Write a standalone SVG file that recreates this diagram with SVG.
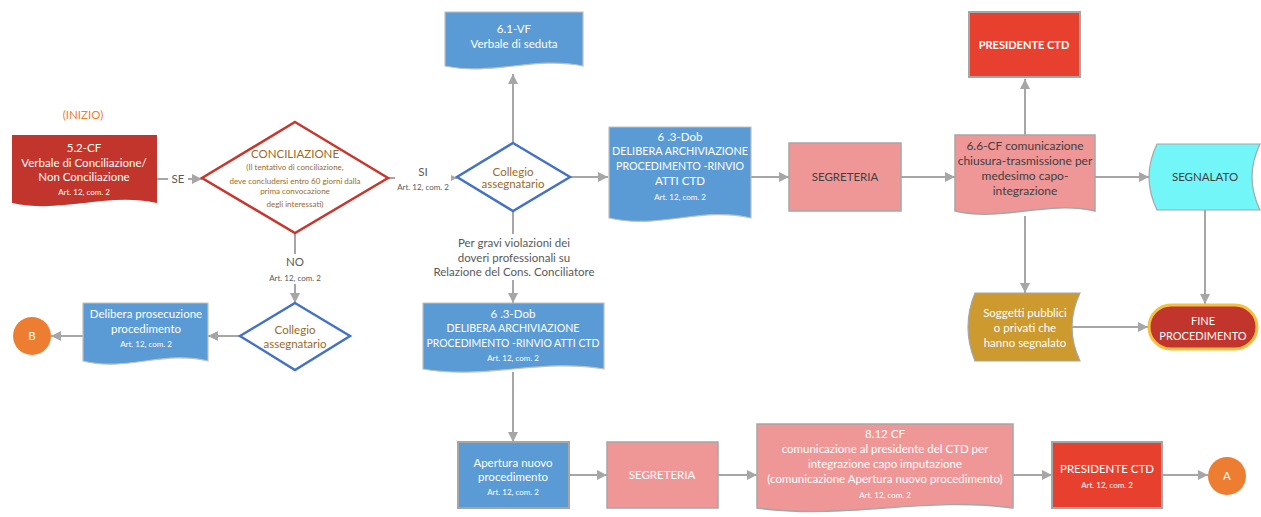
<svg xmlns="http://www.w3.org/2000/svg" width="1261" height="517" viewBox="0 0 1261 517">
<defs>
<marker id="ah" markerUnits="userSpaceOnUse" markerWidth="11" markerHeight="11" refX="10" refY="5" orient="auto"><path d="M0,0 L10,5 L0,10 Z" fill="#A6A6A6"/></marker>
<style>
text{font-family:Lato,"Liberation Sans",sans-serif;text-anchor:middle}
.t{font-size:11.5px}
.s{font-size:8px}
.w{fill:#FFFFFF}
.d{fill:#404040}
.g{fill:#595959}
.br{fill:#9C6A24}
.blue{fill:#5B9BD5;stroke:#BFBFBF;stroke-width:1.2}
.pink{fill:#EF9797;stroke:#A6A6A6;stroke-width:1.5}
.red{fill:#E8402F;stroke:#A6A6A6;stroke-width:2}
.dred{fill:#C1352C}
.c{fill:none;stroke:#A6A6A6;stroke-width:2;marker-end:url(#ah)}
.bg{fill:#FFFFFF}
</style>
</defs>
<rect width="1261" height="517" fill="#FFFFFF"/>

<g id="connectors">
<path class="c" d="M157,179 H202"/>
<path class="c" d="M388,178 H457"/>
<path class="c" d="M513,143 V74"/>
<path class="c" d="M570,177 H608"/>
<path class="c" d="M751,177 H789"/>
<path class="c" d="M901,177 H955"/>
<path class="c" d="M1025,135 V79"/>
<path class="c" d="M1095,177 H1149"/>
<path class="c" d="M1025,216 V293"/>
<path class="c" d="M1205,210 V304"/>
<path class="c" d="M1072,327 H1148"/>
<path class="c" d="M295,233 V303"/>
<path class="c" d="M240,336 H208"/>
<path class="c" d="M83,336 H51"/>
<path class="c" d="M513,210 V303"/>
<path class="c" d="M513,372 V442"/>
<path class="c" d="M569,475 H607"/>
<path class="c" d="M718,475 H757"/>
<path class="c" d="M1013,475 H1052"/>
<path class="c" d="M1162,475 H1208"/>
<rect class="bg" x="168" y="172" width="20" height="14"/>
<text class="t g" x="178" y="183">SE</text>
<rect class="bg" x="395" y="164" width="56" height="30"/>
<text class="t g" x="423" y="176">SI</text>
<text class="s g" x="423" y="190">Art. 12, com. 2</text>
<rect class="bg" x="266" y="254" width="58" height="30"/>
<text class="t g" x="295" y="266">NO</text>
<text class="s g" x="295" y="281">Art. 12, com. 2</text>
<rect class="bg" x="430" y="234" width="168" height="46"/>
<text class="t g" x="514" y="247">Per gravi violazioni dei</text>
<text class="t g" x="514" y="262">doveri professionali su</text>
<text class="t g" x="514" y="276">Relazione del Cons. Conciliatore</text>
</g>

<g id="inizio">
<text class="t" x="83" y="119" fill="#ED7D31">(INIZIO)</text>
</g>

<g id="n52cf">
<path class="dred" d="M12,135 H157 V203 C106,192 63,214 12,203 Z"/>
<text class="t w" x="84" y="152">5.2-CF</text>
<text class="t w" x="84" y="167">Verbale di Conciliazione/</text>
<text class="t w" x="84" y="181">Non Conciliazione</text>
<text class="s w" x="84" y="195">Art. 12, com. 2</text>
</g>

<g id="conciliazione">
<path d="M295,122 L388,178 L295,233 L202,178 Z" fill="#FFFFFF" stroke="#C8372D" stroke-width="2.5"/>
<text class="t br" x="295" y="158">CONCILIAZIONE</text>
<text class="s br" x="295" y="170">(Il tentativo di conciliazione,</text>
<text class="s br" x="295" y="184">deve concludersi entro 60 giorni dalla</text>
<text class="s br" x="295" y="194">prima convocazione</text>
<text class="s br" x="295" y="207">degli interessati)</text>
</g>

<g id="collegio1">
<path d="M513,143 L570,177 L513,211 L457,177 Z" fill="#FFFFFF" stroke="#4472C4" stroke-width="2.5"/>
<text class="t br" x="513" y="176">Collegio</text>
<text class="t br" x="513" y="188">assegnatario</text>
</g>

<g id="n61vf">
<path class="blue" d="M445,12 H583 V66 C535,56 493,76 445,66 Z"/>
<text class="t w" x="514" y="33">6.1-VF</text>
<text class="t w" x="514" y="48">Verbale di seduta</text>
</g>

<g id="n63dob1">
<path class="blue" d="M609,127 H751 V218 C701,206 659,230 609,218 Z"/>
<text class="t w" x="680" y="141">6 .3-Dob</text>
<text class="t w" x="680" y="155" textLength="136" lengthAdjust="spacingAndGlyphs">DELIBERA ARCHIVIAZIONE</text>
<text class="t w" x="680" y="170" textLength="128" lengthAdjust="spacingAndGlyphs">PROCEDIMENTO -RINVIO</text>
<text class="t w" x="680" y="185">ATTI CTD</text>
<text class="s w" x="680" y="200">Art. 12, com. 2</text>
</g>

<g id="segreteria1">
<rect class="pink" x="789" y="143" width="112" height="68"/>
<text class="t d" x="845" y="181">SEGRETERIA</text>
</g>

<g id="n66cf">
<path class="pink" d="M955,135 H1095 V211 C1046,200 1004,222 955,211 Z"/>
<text class="t d" x="1025" y="150" style="font-size:12px">6.6-CF comunicazione</text>
<text class="t d" x="1025" y="165" style="font-size:12px">chiusura-trasmissione per</text>
<text class="t d" x="1025" y="180" style="font-size:12px">medesimo capo-</text>
<text class="t d" x="1025" y="195" style="font-size:12px">integrazione</text>
</g>

<g id="presidente1">
<rect class="red" x="969" y="12" width="111" height="65"/>
<text class="t w" x="1024" y="49" font-weight="bold" style="font-size:11px">PRESIDENTE CTD</text>
</g>

<g id="segnalato">
<path d="M1157,144 H1260 Q1244,177 1260,210 H1157 Q1141,177 1157,144 Z" fill="#73F6F8" stroke="#A6A6A6" stroke-width="1.2"/>
<text class="t d" x="1205" y="181">SEGNALATO</text>
</g>

<g id="soggetti">
<path d="M975,293 H1080 Q1064,327 1080,361 H975 Q961,327 975,293 Z" fill="#CC9A2E" stroke="#A6A6A6" stroke-width="1.2"/>
<text class="t w" x="1025" y="317">Soggetti pubblici</text>
<text class="t w" x="1025" y="332">o privati che</text>
<text class="t w" x="1025" y="347">hanno segnalato</text>
</g>

<g id="fine">
<rect x="1149" y="305" width="108" height="44" rx="22" ry="22" fill="#C1352C" stroke="#F5C040" stroke-width="3"/>
<text class="t w" x="1203" y="325" style="font-size:11px">FINE</text>
<text class="t w" x="1203" y="340" style="font-size:11px">PROCEDIMENTO</text>
</g>

<g id="collegio2">
<path d="M295,303 L350,336 L295,370 L240,336 Z" fill="#FFFFFF" stroke="#4472C4" stroke-width="2.5"/>
<text class="t br" x="295" y="334">Collegio</text>
<text class="t br" x="295" y="348">assegnatario</text>
</g>

<g id="delibera">
<path class="blue" d="M83,303 H208 V361 C164,350 127,372 83,361 Z"/>
<text class="t w" x="146" y="318">Delibera prosecuzione</text>
<text class="t w" x="146" y="333">procedimento</text>
<text class="s w" x="146" y="347">Art. 12, com. 2</text>
</g>

<g id="circleB">
<circle cx="32" cy="336" r="19" fill="#ED7D31"/>
<text class="t w" x="32" y="340">B</text>
</g>

<g id="n63dob2">
<path class="blue" d="M423,303 H604 V369 C541,358 486,380 423,369 Z"/>
<text class="t w" x="513" y="318">6 .3-Dob</text>
<text class="t w" x="513" y="332" textLength="133" lengthAdjust="spacingAndGlyphs">DELIBERA ARCHIVIAZIONE</text>
<text class="t w" x="513" y="347" textLength="173" lengthAdjust="spacingAndGlyphs">PROCEDIMENTO -RINVIO ATTI CTD</text>
<text class="s w" x="513" y="361">Art. 12, com. 2</text>
</g>

<g id="apertura">
<rect x="458" y="442" width="111" height="66" fill="#5B9BD5" stroke="#A6A6A6" stroke-width="2"/>
<text class="t w" x="513" y="467">Apertura nuovo</text>
<text class="t w" x="513" y="481">procedimento</text>
<text class="s w" x="513" y="495">Art. 12, com. 2</text>
</g>

<g id="segreteria2">
<rect class="pink" x="607" y="442" width="111" height="66"/>
<text class="t w" x="662" y="479">SEGRETERIA</text>
</g>

<g id="n812cf">
<path class="pink" d="M757,424 H1013 V508 C923,496 847,520 757,508 Z"/>
<text class="t w" x="885" y="438">8.12 CF</text>
<text class="t w" x="885" y="453">comunicazione al presidente del CTD per</text>
<text class="t w" x="885" y="468">integrazione capo imputazione</text>
<text class="t w" x="885" y="483">(comunicazione Apertura nuovo procedimento)</text>
<text class="s w" x="885" y="498">Art. 12, com. 2</text>
</g>

<g id="presidente2">
<rect class="red" x="1052" y="442" width="110" height="66"/>
<text class="t w" x="1107" y="473">PRESIDENTE CTD</text>
<text class="s w" x="1107" y="488">Art. 12, com. 2</text>
</g>

<g id="circleA">
<circle cx="1227" cy="476" r="19" fill="#ED7D31"/>
<text class="t w" x="1227" y="480">A</text>
</g>
</svg>
